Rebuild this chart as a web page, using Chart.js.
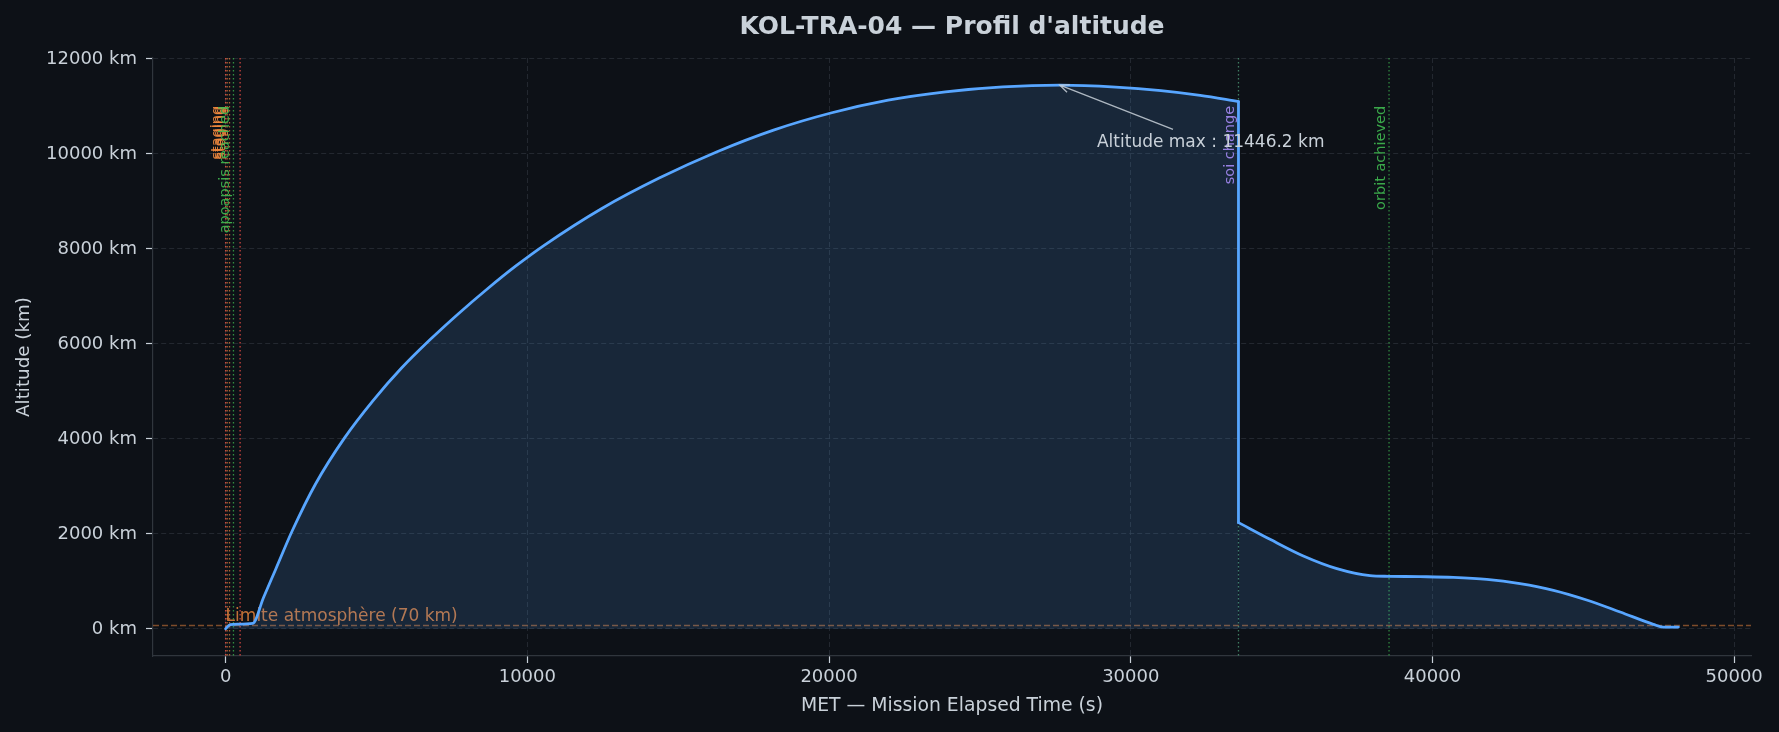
<!DOCTYPE html>
<html>
<head>
<meta charset="utf-8">
<script src="https://cdn.jsdelivr.net/npm/chart.js@4.4.1/dist/chart.umd.min.js"></script>
<style>
  html, body { margin: 0; padding: 0; background: #0d1117; }
  #wrap { width: 1779px; height: 732px; }
</style>
</head>
<body>
<div id="wrap"><canvas id="altChart" width="1779" height="732"></canvas></div>
<script>
// mission elapsed time (s) and altitude (km)
const metSeconds = [0, 150, 400, 900, 1250, 1650, 2220, 2980, 3930, 4880, 5830, 6780, 7725,
   8670, 9620, 10570, 12470, 14370, 16270, 18160, 20060, 21960, 23860, 25760, 27650, 29500, 31000,
   32300, 33570,
   33570, 34615, 35720, 36830, 37930, 38560, 39590, 40690, 41800, 42900, 44010, 45110,
   46220, 47320, 47650, 48150];
const altitudeKm = [0, 90, 100, 115, 650, 1240, 2080, 3050, 4010, 4800, 5490, 6090, 6640,
   7155, 7640, 8080, 8850, 9490, 10040, 10500, 10860, 11130, 11305, 11410, 11446.2, 11405, 11330,
   11230, 11100,
   2236, 1884, 1533, 1267, 1120, 1106, 1099, 1084, 1042, 951, 811, 607,
   354, 95, 38, 38];

const xTicks = [0, 10000, 20000, 30000, 40000, 50000];
const yTicks = [0, 2000, 4000, 6000, 8000, 10000, 12000];

// flight events (vertical dotted lines)
const eventTimes      = [0, 50, 130, 480, 260, 33570, 38560];
const eventLabels     = ['staging', 'staging', 'staging', '', 'apoapsis reached', 'soi change', 'orbit achieved'];
const eventLineColors = ['rgba(248,81,73,0.8)', 'rgba(240,136,62,0.7)', 'rgba(240,136,62,0.7)', 'rgba(248,81,73,0.8)',
                         'rgba(63,185,80,0.75)', 'rgba(86,170,130,0.7)', 'rgba(63,185,80,0.7)'];
const eventTextColors = ['rgba(240,136,62,0.9)', 'rgba(240,136,62,0.9)', 'rgba(240,136,62,0.9)', '',
                         'rgba(63,185,80,0.9)', 'rgba(188,140,255,0.85)', 'rgba(63,185,80,0.9)'];

const atmosphereKm = 70;
const maxAltTime = 27650;
const maxAltKm = 11446.2;

const FONT = 'DejaVu Sans';
const TXT = '#c9d1d9';

// the soi change makes a vertical jump: split the curve there so the smoothing stays on each side
let dropIndex = 1;
while (dropIndex < metSeconds.length && altitudeKm[dropIndex - 1] - altitudeKm[dropIndex] < 5000) dropIndex++;
const pts = metSeconds.map((t, i) => ({ x: t, y: altitudeKm[i] }));
const beforeDrop = pts.slice(0, dropIndex);
const afterDrop = pts.slice(dropIndex);
const dropSegment = [pts[dropIndex - 1], pts[dropIndex]];

const overlays = {
   id: 'overlays',
   beforeDatasetsDraw(chart) {
      const ctx = chart.ctx;
      const area = chart.chartArea;
      const xs = chart.scales.x, ys = chart.scales.y;

      // atmosphere limit
      const ya = ys.getPixelForValue(atmosphereKm);
      ctx.save();
      ctx.strokeStyle = 'rgba(240,136,62,0.5)';
      ctx.lineWidth = 1.5;
      ctx.setLineDash([6, 3]);
      ctx.beginPath();
      ctx.moveTo(area.left, ya);
      ctx.lineTo(area.right, ya);
      ctx.stroke();
      ctx.restore();

      // event lines + labels
      const labelY = area.bottom - 0.92 * (area.bottom - area.top);
      for (let i = 0; i < eventTimes.length; i++) {
         const px = xs.getPixelForValue(eventTimes[i]);
         ctx.save();
         ctx.strokeStyle = eventLineColors[i];
         ctx.lineWidth = 1.3;
         ctx.setLineDash([1.5, 2.5]);
         ctx.beginPath();
         ctx.moveTo(px, area.top);
         ctx.lineTo(px, area.bottom);
         ctx.stroke();
         ctx.restore();
      }
      for (let i = 0; i < eventTimes.length; i++) {
         if (!eventLabels[i]) continue;
         const px = xs.getPixelForValue(eventTimes[i]);
         ctx.save();
         ctx.translate(px, labelY);
         ctx.rotate(-Math.PI / 2);
         ctx.font = '14.5px "' + FONT + '"';
         ctx.fillStyle = eventTextColors[i];
         ctx.textAlign = 'right';
         ctx.textBaseline = 'bottom';
         ctx.fillText(eventLabels[i], 0, -1);
         ctx.restore();
      }

      ctx.save();
      ctx.font = '17px "' + FONT + '"';
      ctx.fillStyle = 'rgba(240,136,62,0.8)';
      ctx.textAlign = 'left';
      ctx.textBaseline = 'bottom';
      ctx.fillText('Limite atmosphère (70 km)', xs.getPixelForValue(0), ya);
      ctx.restore();
   },
   afterDraw(chart) {
      const ctx = chart.ctx;
      const area = chart.chartArea;
      const xs = chart.scales.x, ys = chart.scales.y;

      // title
      ctx.save();
      ctx.font = 'bold 25px "' + FONT + '"';
      ctx.fillStyle = TXT;
      ctx.textAlign = 'center';
      ctx.textBaseline = 'middle';
      ctx.fillText("KOL-TRA-04 — Profil d'altitude", (area.left + area.right) / 2, 27);
      ctx.restore();

      // max altitude annotation
      const hx = xs.getPixelForValue(maxAltTime), hy = ys.getPixelForValue(maxAltKm);
      const tx = xs.getPixelForValue(31400), ty = ys.getPixelForValue(10516);
      ctx.save();
      ctx.strokeStyle = 'rgba(201,209,217,0.85)';
      ctx.lineWidth = 1.4;
      ctx.beginPath();
      ctx.moveTo(tx, ty);
      ctx.lineTo(hx, hy);
      const ang = Math.atan2(ty - hy, tx - hx);
      const L = 10;
      ctx.moveTo(hx + L * Math.cos(ang - 0.4), hy + L * Math.sin(ang - 0.4));
      ctx.lineTo(hx, hy);
      ctx.lineTo(hx + L * Math.cos(ang + 0.4), hy + L * Math.sin(ang + 0.4));
      ctx.stroke();
      ctx.font = '17px "' + FONT + '"';
      ctx.fillStyle = TXT;
      ctx.textAlign = 'left';
      ctx.textBaseline = 'middle';
      ctx.fillText('Altitude max : ' + maxAltKm.toFixed(1) + ' km', xs.getPixelForValue(28880), ys.getPixelForValue(10242));
      ctx.restore();
   }
};

const gridColor = 'rgba(48,54,61,0.65)';
const curveStyle = {
   borderColor: '#58a6ff',
   backgroundColor: 'rgba(88,166,255,0.15)',
   borderWidth: 2.8,
   pointRadius: 0,
   fill: 'origin',
   cubicInterpolationMode: 'monotone',
   borderJoinStyle: 'round',
   borderCapStyle: 'round'
};

new Chart(document.getElementById('altChart'), {
   type: 'line',
   data: {
      datasets: [
         Object.assign({ data: beforeDrop }, curveStyle),
         Object.assign({ data: afterDrop }, curveStyle),
         Object.assign({ data: dropSegment }, curveStyle, { fill: false, cubicInterpolationMode: 'default', tension: 0 })
      ]
   },
   options: {
      responsive: false,
      animation: false,
      devicePixelRatio: 1,
      layout: { padding: { top: 58, right: 28, left: 0, bottom: 0 } },
      plugins: { legend: { display: false }, tooltip: { enabled: false } },
      scales: {
         x: {
            type: 'linear',
            min: -2407,
            max: 50557,
            afterBuildTicks: s => { s.ticks = xTicks.map(v => ({ value: v })); },
            afterFit: s => { s.height = 76; },
            ticks: { color: TXT, font: { family: FONT, size: 18 }, padding: 4, maxRotation: 0, autoSkip: false,
                     callback: v => String(v) },
            grid: { color: gridColor, lineWidth: 1, tickColor: TXT, tickLength: 7, tickWidth: 1.2 },
            border: { display: true, color: '#30363d', width: 1.2, dash: [5, 3] },
            title: { display: true, text: 'MET — Mission Elapsed Time (s)', color: TXT,
                     font: { family: FONT, size: 18.8 }, padding: { top: 0, bottom: 15 } }
         },
         y: {
            type: 'linear',
            min: -572,
            max: 12018,
            afterBuildTicks: s => { s.ticks = yTicks.map(v => ({ value: v })); },
            afterFit: s => { s.width = 153; },
            ticks: { color: TXT, font: { family: FONT, size: 18 }, padding: 9, autoSkip: false,
                     callback: v => v + ' km' },
            grid: { color: gridColor, lineWidth: 1, tickColor: TXT, tickLength: 7, tickWidth: 1.2 },
            border: { display: true, color: '#30363d', width: 1.2, dash: [5, 3] },
            title: { display: true, text: 'Altitude (km)', color: TXT,
                     font: { family: FONT, size: 18.3 }, padding: { top: 13, bottom: 0 } }
         }
      }
   },
   plugins: [overlays]
});
</script>
</body>
</html>
